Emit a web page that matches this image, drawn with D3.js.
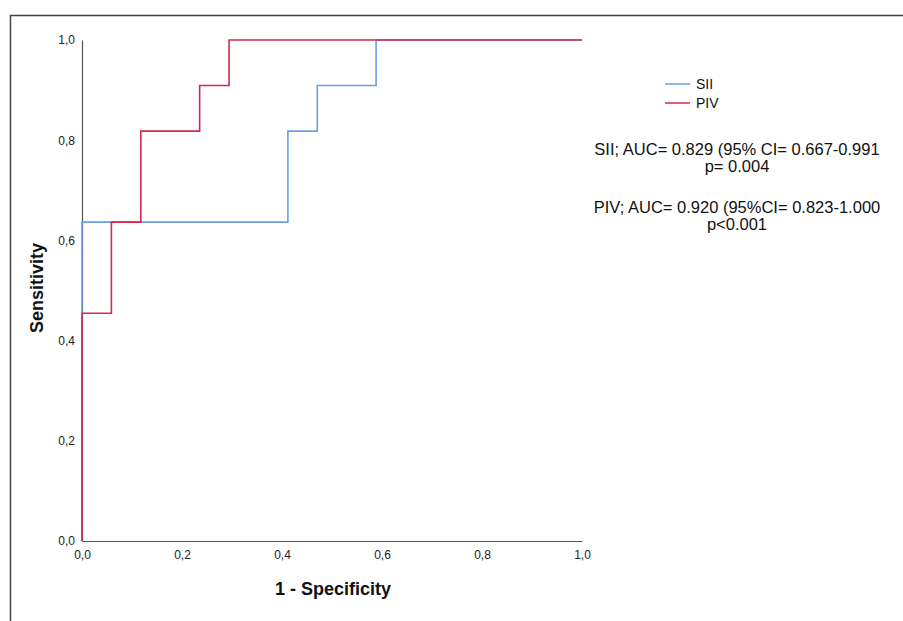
<!DOCTYPE html>
<html>
<head>
<meta charset="utf-8">
<script src="https://cdn.jsdelivr.net/npm/d3@7"></script>
<style>
  body { margin: 0; background: #fff; }
  svg { display: block; font-family: "Liberation Sans", Arial, sans-serif; }
</style>
</head>
<body>
<div id="chart"></div>
<script>
// ROC steps (1 - specificity, sensitivity)
var siiX = [0, 0, 0.4118, 0.4118, 0.4706, 0.4706, 0.5882, 0.5882, 1];
var siiY = [0, 0.6364, 0.6364, 0.8182, 0.8182, 0.9091, 0.9091, 1, 1];
var pivX = [0, 0, 0.0588, 0.0588, 0.1176, 0.1176, 0.2353, 0.2353, 0.2941, 0.2941, 1];
var pivY = [0, 0.4545, 0.4545, 0.6364, 0.6364, 0.8182, 0.8182, 0.9091, 0.9091, 1, 1];
var ticks = [0, 0.2, 0.4, 0.6, 0.8, 1.0];
var seriesNames = ["SII", "PIV"];
var notes = [
  ["SII; AUC= 0.829 (95% CI= 0.667-0.991", "p= 0.004"],
  ["PIV; AUC= 0.920 (95%CI= 0.823-1.000", "p<0.001"]
];

const width = 903, height = 621;
const colors = ["#6a9fe2", "#d3284f"];

const svg = d3.select("#chart").append("svg")
    .attr("width", width)
    .attr("height", height);

// outer frame (only top and left edges are visible)
svg.append("path")
    .attr("d", "M10.5,621 L10.5,15.5 L903,15.5")
    .attr("fill", "none")
    .attr("stroke", "#444")
    .attr("stroke-width", 1.5);

const x = d3.scaleLinear().domain([0, 1]).range([82, 582]);
const y = d3.scaleLinear().domain([0, 1]).range([541, 40]);

const fmt = function(d) { return d3.format(".1f")(d).replace(".", ","); };

const xAxis = svg.append("g")
    .attr("transform", "translate(0,541)")
    .call(d3.axisBottom(x).tickValues(ticks).tickSize(0).tickPadding(9).tickFormat(fmt));
const yAxis = svg.append("g")
    .attr("transform", "translate(82,0)")
    .call(d3.axisLeft(y).tickValues(ticks).tickSize(0).tickPadding(7).tickFormat(fmt));

[xAxis, yAxis].forEach(function(a) {
  a.select(".domain").attr("stroke", "#555").attr("stroke-width", 1.2);
  a.selectAll("text").attr("fill", "#222")
    .style("font-size", "12px")
    .style("font-family", "Liberation Sans, Arial, sans-serif");
});

// axis titles
svg.append("text")
    .attr("x", 333).attr("y", 595)
    .attr("text-anchor", "middle")
    .attr("font-size", 18).attr("font-weight", "bold").attr("fill", "#111")
    .text("1 - Specificity");
svg.append("text")
    .attr("transform", "translate(43,288) rotate(-90)")
    .attr("text-anchor", "middle")
    .attr("font-size", 18).attr("font-weight", "bold").attr("fill", "#111")
    .text("Sensitivity");

// ROC curves (SII first, PIV on top)
const line = d3.line().x(function(d) { return x(d[0]); }).y(function(d) { return y(d[1]); });
const curves = [d3.zip(siiX, siiY), d3.zip(pivX, pivY)];
svg.selectAll(".roc")
    .data(curves)
    .enter()
    .append("path")
    .attr("class", "roc")
    .attr("d", line)
    .attr("fill", "none")
    .attr("stroke", function(d, i) { return colors[i]; })
    .attr("stroke-width", 1.6);

// legend
const legend = svg.selectAll(".legend")
    .data(seriesNames)
    .enter()
    .append("g")
    .attr("class", "legend")
    .attr("transform", function(d, i) { return "translate(665," + (84 + i * 19) + ")"; });
legend.append("line")
    .attr("x1", 0).attr("x2", 25)
    .attr("stroke", function(d, i) { return colors[i]; })
    .attr("stroke-width", 1.5);
legend.append("text")
    .attr("x", 31).attr("dy", "0.36em")
    .attr("font-size", 14).attr("fill", "#111")
    .text(function(d) { return d; });

// AUC annotations
notes.forEach(function(n, i) {
  const t = svg.append("text")
      .attr("x", 737).attr("y", 155 + i * 58)
      .attr("text-anchor", "middle")
      .attr("font-size", 16.5).attr("fill", "#111");
  t.append("tspan").attr("x", 737).text(n[0]);
  t.append("tspan").attr("x", 737).attr("dy", 17).text(n[1]);
});
</script>
</body>
</html>
